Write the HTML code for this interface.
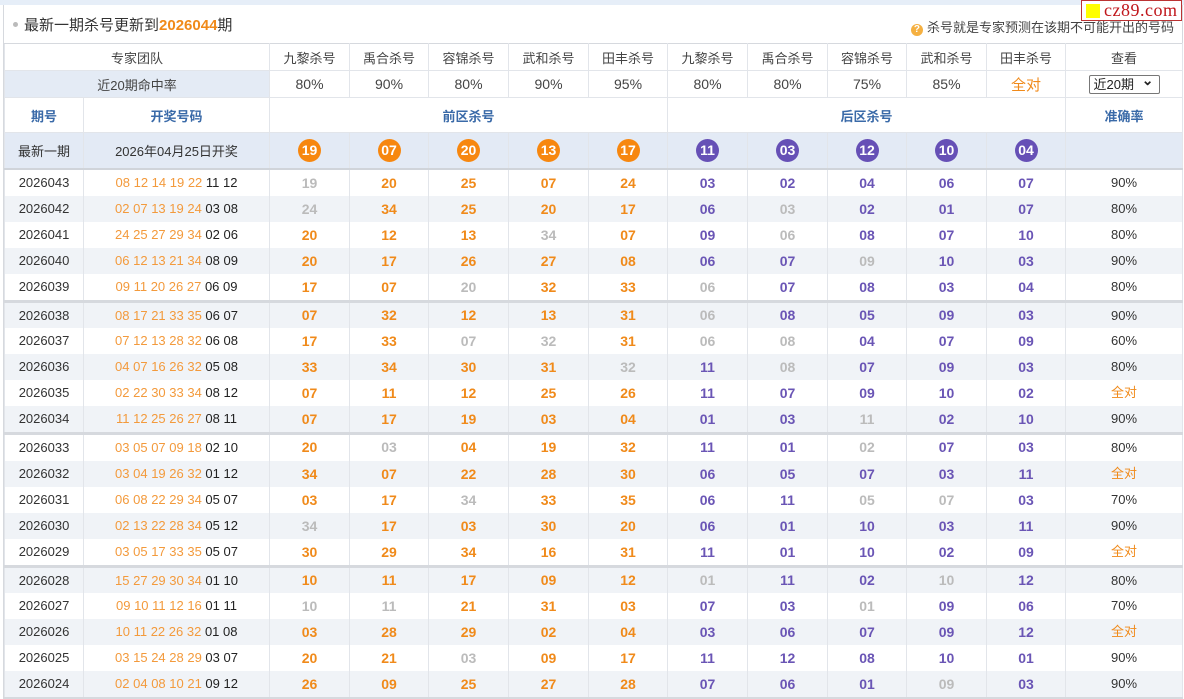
<!DOCTYPE html>
<html><head><meta charset="utf-8">
<style>
*{margin:0;padding:0;box-sizing:border-box}
body{width:1184px;height:698px;background:#fff;font-family:"Liberation Sans","Noto Sans CJK SC",sans-serif;position:relative;overflow:hidden;color:#333}
.band{position:absolute;left:0;top:0;width:1184px;height:5px;background:#e6eef8}
.wrap{position:absolute;left:3px;top:5px;width:1180px;border-left:1px solid #d6d9de;border-right:1px solid #d6d9de}
.title{height:38px;position:relative;font-size:15px;color:#333}
.title .t{position:absolute;left:9px;top:9px}
.title .t b{color:#f08a1a}
.title .dot{display:inline-block;width:5px;height:5px;border-radius:50%;background:#bbb;margin-right:6px;vertical-align:middle;position:relative;top:-2px}
.title .r{position:absolute;right:8px;top:12px;font-size:13px;color:#444}
.q{display:inline-block;width:12px;height:12px;border-radius:50%;background:#f5b041;color:#fff;font-size:10px;line-height:12px;text-align:center;margin-right:4px;font-weight:bold}
.logo{position:absolute;left:1081px;top:0;width:101px;height:21px;background:#fff;border:1px solid #b33;font-family:"Liberation Serif",serif;color:#c0161b;font-size:18px;line-height:19px;padding-left:22px;letter-spacing:0.5px}
.logo:before{content:"";position:absolute;left:4px;top:3px;width:14px;height:14px;background:#ffff00}
table{border-collapse:collapse;table-layout:fixed;width:1178px}
td{border:1px solid #e2e5ea;text-align:center;font-size:13px;padding:0;white-space:nowrap}
tr.h1 td{height:27px;color:#444;border-top:1px solid #d6d9de}
tr.h2 td{height:27px;font-size:14px;color:#444}
tr.h2 td.lb{background:#e4ebf5;font-size:13px}
td.full,tr.h2 td.full{color:#f08a1a;font-size:15px}
.sel{display:inline-block;width:71px;height:19px;border:1px solid #777;border-radius:2px;font-size:13px;text-align:left;padding-left:4px;line-height:17px;color:#222;position:relative}
.sel:after{content:"⌄";position:absolute;right:5px;top:-4px;font-weight:bold;font-size:14px}
tr.h3 td{height:35px;color:#3a6aa8;font-weight:bold;font-size:13px}
tr.h4 td{height:36px;background:#e3eaf5;border-bottom:2px solid #d0d4da}
.ball{display:inline-block;width:23px;height:23px;border-radius:50%;color:#fff;font-weight:bold;font-size:14px;line-height:23px;text-align:center;font-family:"Liberation Sans",sans-serif}
.bo{background:#f7870f}.bp{background:#6650b6}
tr.d{height:26px}
tr.d td{height:26px;line-height:26px;border-top:none;border-bottom:none;font-size:13px}
tr.d td.n{font-weight:bold;font-size:14px}
tr.s td{background:#f0f3f7}
tr.sep{height:27px}
tr.sep td{height:27px;line-height:25px;border-top:3px solid #d6d9de}
tr.last td{border-bottom:2px solid #d6d9de}
.o{color:#f08a1a}.p{color:#6a55b5}.g{color:#bbb}.k{color:#222}
.dr .o{color:#f39a3c}
</style></head><body>
<div class="band"></div>
<div class="wrap">
<div class="title"><div class="t"><span class="dot"></span>最新一期杀号更新到<b>2026044</b>期</div><div class="r"><span class="q">?</span>杀号就是专家预测在该期不可能开出的号码</div></div>
<table>
<colgroup><col style="width:79px"><col style="width:186px"><col style="width:80px"><col style="width:79px"><col style="width:80px"><col style="width:80px"><col style="width:79px"><col style="width:80px"><col style="width:80px"><col style="width:79px"><col style="width:80px"><col style="width:79px"><col style="width:117px"></colgroup>
<tr class="h1"><td colspan="2">专家团队</td><td>九黎杀号</td><td>禹合杀号</td><td>容锦杀号</td><td>武和杀号</td><td>田丰杀号</td><td>九黎杀号</td><td>禹合杀号</td><td>容锦杀号</td><td>武和杀号</td><td>田丰杀号</td><td>查看</td></tr>
<tr class="h2"><td colspan="2" class="lb">近20期命中率</td><td>80%</td><td>90%</td><td>80%</td><td>90%</td><td>95%</td><td>80%</td><td>80%</td><td>75%</td><td>85%</td><td class="full">全对</td><td><span class="sel">近20期</span></td></tr>
<tr class="h3"><td>期号</td><td>开奖号码</td><td colspan="5">前区杀号</td><td colspan="5">后区杀号</td><td>准确率</td></tr>
<tr class="h4"><td style="font-size:13px;color:#333">最新一期</td><td style="font-size:13px;color:#333">2026年04月25日开奖</td><td><span class="ball bo">19</span></td><td><span class="ball bo">07</span></td><td><span class="ball bo">20</span></td><td><span class="ball bo">13</span></td><td><span class="ball bo">17</span></td><td><span class="ball bp">11</span></td><td><span class="ball bp">03</span></td><td><span class="ball bp">12</span></td><td><span class="ball bp">10</span></td><td><span class="ball bp">04</span></td><td></td></tr>

<tr class="d"><td>2026043</td><td class="dr"><span class="o">08 12 14 19 22</span> <span class="k">11 12</span></td><td class="n g">19</td><td class="n o">20</td><td class="n o">25</td><td class="n o">07</td><td class="n o">24</td><td class="n p">03</td><td class="n p">02</td><td class="n p">04</td><td class="n p">06</td><td class="n p">07</td><td>90%</td></tr>
<tr class="d s"><td>2026042</td><td class="dr"><span class="o">02 07 13 19 24</span> <span class="k">03 08</span></td><td class="n g">24</td><td class="n o">34</td><td class="n o">25</td><td class="n o">20</td><td class="n o">17</td><td class="n p">06</td><td class="n g">03</td><td class="n p">02</td><td class="n p">01</td><td class="n p">07</td><td>80%</td></tr>
<tr class="d"><td>2026041</td><td class="dr"><span class="o">24 25 27 29 34</span> <span class="k">02 06</span></td><td class="n o">20</td><td class="n o">12</td><td class="n o">13</td><td class="n g">34</td><td class="n o">07</td><td class="n p">09</td><td class="n g">06</td><td class="n p">08</td><td class="n p">07</td><td class="n p">10</td><td>80%</td></tr>
<tr class="d s"><td>2026040</td><td class="dr"><span class="o">06 12 13 21 34</span> <span class="k">08 09</span></td><td class="n o">20</td><td class="n o">17</td><td class="n o">26</td><td class="n o">27</td><td class="n o">08</td><td class="n p">06</td><td class="n p">07</td><td class="n g">09</td><td class="n p">10</td><td class="n p">03</td><td>90%</td></tr>
<tr class="d"><td>2026039</td><td class="dr"><span class="o">09 11 20 26 27</span> <span class="k">06 09</span></td><td class="n o">17</td><td class="n o">07</td><td class="n g">20</td><td class="n o">32</td><td class="n o">33</td><td class="n g">06</td><td class="n p">07</td><td class="n p">08</td><td class="n p">03</td><td class="n p">04</td><td>80%</td></tr>

<tr class="d s sep"><td>2026038</td><td class="dr"><span class="o">08 17 21 33 35</span> <span class="k">06 07</span></td><td class="n o">07</td><td class="n o">32</td><td class="n o">12</td><td class="n o">13</td><td class="n o">31</td><td class="n g">06</td><td class="n p">08</td><td class="n p">05</td><td class="n p">09</td><td class="n p">03</td><td>90%</td></tr>
<tr class="d"><td>2026037</td><td class="dr"><span class="o">07 12 13 28 32</span> <span class="k">06 08</span></td><td class="n o">17</td><td class="n o">33</td><td class="n g">07</td><td class="n g">32</td><td class="n o">31</td><td class="n g">06</td><td class="n g">08</td><td class="n p">04</td><td class="n p">07</td><td class="n p">09</td><td>60%</td></tr>
<tr class="d s"><td>2026036</td><td class="dr"><span class="o">04 07 16 26 32</span> <span class="k">05 08</span></td><td class="n o">33</td><td class="n o">34</td><td class="n o">30</td><td class="n o">31</td><td class="n g">32</td><td class="n p">11</td><td class="n g">08</td><td class="n p">07</td><td class="n p">09</td><td class="n p">03</td><td>80%</td></tr>
<tr class="d"><td>2026035</td><td class="dr"><span class="o">02 22 30 33 34</span> <span class="k">08 12</span></td><td class="n o">07</td><td class="n o">11</td><td class="n o">12</td><td class="n o">25</td><td class="n o">26</td><td class="n p">11</td><td class="n p">07</td><td class="n p">09</td><td class="n p">10</td><td class="n p">02</td><td class="full">全对</td></tr>
<tr class="d s"><td>2026034</td><td class="dr"><span class="o">11 12 25 26 27</span> <span class="k">08 11</span></td><td class="n o">07</td><td class="n o">17</td><td class="n o">19</td><td class="n o">03</td><td class="n o">04</td><td class="n p">01</td><td class="n p">03</td><td class="n g">11</td><td class="n p">02</td><td class="n p">10</td><td>90%</td></tr>

<tr class="d sep"><td>2026033</td><td class="dr"><span class="o">03 05 07 09 18</span> <span class="k">02 10</span></td><td class="n o">20</td><td class="n g">03</td><td class="n o">04</td><td class="n o">19</td><td class="n o">32</td><td class="n p">11</td><td class="n p">01</td><td class="n g">02</td><td class="n p">07</td><td class="n p">03</td><td>80%</td></tr>
<tr class="d s"><td>2026032</td><td class="dr"><span class="o">03 04 19 26 32</span> <span class="k">01 12</span></td><td class="n o">34</td><td class="n o">07</td><td class="n o">22</td><td class="n o">28</td><td class="n o">30</td><td class="n p">06</td><td class="n p">05</td><td class="n p">07</td><td class="n p">03</td><td class="n p">11</td><td class="full">全对</td></tr>
<tr class="d"><td>2026031</td><td class="dr"><span class="o">06 08 22 29 34</span> <span class="k">05 07</span></td><td class="n o">03</td><td class="n o">17</td><td class="n g">34</td><td class="n o">33</td><td class="n o">35</td><td class="n p">06</td><td class="n p">11</td><td class="n g">05</td><td class="n g">07</td><td class="n p">03</td><td>70%</td></tr>
<tr class="d s"><td>2026030</td><td class="dr"><span class="o">02 13 22 28 34</span> <span class="k">05 12</span></td><td class="n g">34</td><td class="n o">17</td><td class="n o">03</td><td class="n o">30</td><td class="n o">20</td><td class="n p">06</td><td class="n p">01</td><td class="n p">10</td><td class="n p">03</td><td class="n p">11</td><td>90%</td></tr>
<tr class="d"><td>2026029</td><td class="dr"><span class="o">03 05 17 33 35</span> <span class="k">05 07</span></td><td class="n o">30</td><td class="n o">29</td><td class="n o">34</td><td class="n o">16</td><td class="n o">31</td><td class="n p">11</td><td class="n p">01</td><td class="n p">10</td><td class="n p">02</td><td class="n p">09</td><td class="full">全对</td></tr>

<tr class="d s sep"><td>2026028</td><td class="dr"><span class="o">15 27 29 30 34</span> <span class="k">01 10</span></td><td class="n o">10</td><td class="n o">11</td><td class="n o">17</td><td class="n o">09</td><td class="n o">12</td><td class="n g">01</td><td class="n p">11</td><td class="n p">02</td><td class="n g">10</td><td class="n p">12</td><td>80%</td></tr>
<tr class="d"><td>2026027</td><td class="dr"><span class="o">09 10 11 12 16</span> <span class="k">01 11</span></td><td class="n g">10</td><td class="n g">11</td><td class="n o">21</td><td class="n o">31</td><td class="n o">03</td><td class="n p">07</td><td class="n p">03</td><td class="n g">01</td><td class="n p">09</td><td class="n p">06</td><td>70%</td></tr>
<tr class="d s"><td>2026026</td><td class="dr"><span class="o">10 11 22 26 32</span> <span class="k">01 08</span></td><td class="n o">03</td><td class="n o">28</td><td class="n o">29</td><td class="n o">02</td><td class="n o">04</td><td class="n p">03</td><td class="n p">06</td><td class="n p">07</td><td class="n p">09</td><td class="n p">12</td><td class="full">全对</td></tr>
<tr class="d"><td>2026025</td><td class="dr"><span class="o">03 15 24 28 29</span> <span class="k">03 07</span></td><td class="n o">20</td><td class="n o">21</td><td class="n g">03</td><td class="n o">09</td><td class="n o">17</td><td class="n p">11</td><td class="n p">12</td><td class="n p">08</td><td class="n p">10</td><td class="n p">01</td><td>90%</td></tr>
<tr class="d s last"><td>2026024</td><td class="dr"><span class="o">02 04 08 10 21</span> <span class="k">09 12</span></td><td class="n o">26</td><td class="n o">09</td><td class="n o">25</td><td class="n o">27</td><td class="n o">28</td><td class="n p">07</td><td class="n p">06</td><td class="n p">01</td><td class="n g">09</td><td class="n p">03</td><td>90%</td></tr>
</table>
</div>
<div class="logo">cz89.com</div>
</body></html>
